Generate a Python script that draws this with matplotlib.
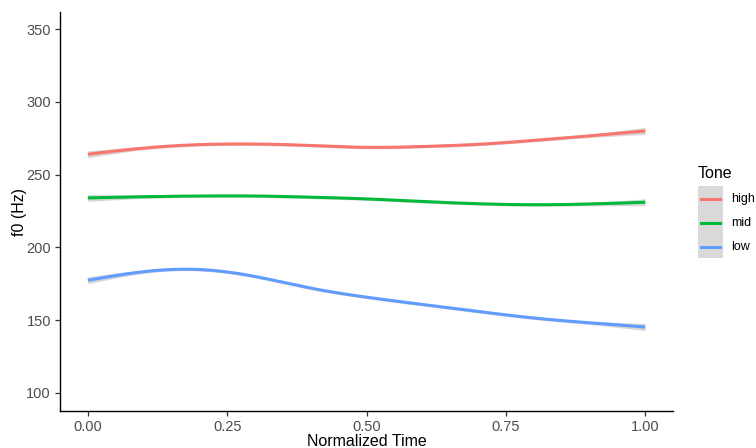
import numpy as np
import matplotlib
matplotlib.use("Agg")
import matplotlib.pyplot as plt
from matplotlib.patches import Rectangle
from matplotlib.lines import Line2D

plt.rcParams['font.family'] = ['Liberation Sans', 'DejaVu Sans']

time = [0.0, 0.1, 0.2, 0.3, 0.4, 0.5, 0.6, 0.7, 0.8, 0.9, 1.0]
high = [264.0, 268.2, 270.6, 271.0, 270.0, 268.7, 269.3, 270.8, 273.5, 276.6, 280.0]
mid = [234.0, 234.8, 235.3, 235.3, 234.5, 233.3, 231.5, 230.0, 229.3, 229.8, 231.0]
low = [177.4, 183.3, 184.8, 180.0, 172.0, 165.8, 160.8, 156.0, 151.5, 148.2, 145.3]
se = [1.2, 0.6, 0.5, 0.5, 0.5, 0.5, 0.5, 0.5, 0.5, 0.6, 1.2]
tones = ["high", "mid", "low"]
colors = ["#F8766D", "#00BA38", "#619CFF"]
xticks = [0.0, 0.25, 0.5, 0.75, 1.0]
xticklabels = ["0.00", "0.25", "0.50", "0.75", "1.00"]
yticks = [100, 150, 200, 250, 300, 350]


def spline(x, y, xs):
    x = np.asarray(x, float); y = np.asarray(y, float)
    n = len(x); h = np.diff(x)
    A = np.zeros((n, n)); b = np.zeros(n)
    A[0, 0] = A[-1, -1] = 1
    for i in range(1, n - 1):
        A[i, i - 1] = h[i - 1]; A[i, i] = 2 * (h[i - 1] + h[i]); A[i, i + 1] = h[i]
        b[i] = 3 * ((y[i + 1] - y[i]) / h[i] - (y[i] - y[i - 1]) / h[i - 1])
    c = np.linalg.solve(A, b)
    bb = (y[1:] - y[:-1]) / h - h * (2 * c[:-1] + c[1:]) / 3
    d = (c[1:] - c[:-1]) / (3 * h)
    idx = np.clip(np.searchsorted(x, xs) - 1, 0, n - 2)
    t = xs - x[idx]
    return y[idx] + bb[idx] * t + c[idx] * t ** 2 + d[idx] * t ** 3


fig = plt.figure(figsize=(7.56, 4.48), dpi=100)
W, H = 756, 448
ax = fig.add_axes([60 / W, 1 - 411 / H, (673 - 60) / W, (411 - 12) / H])

xs = np.linspace(0, 1, 300)
for vals, col in zip([high, mid, low], colors):
    ys = spline(time, vals, xs)
    ss = spline(time, se, xs)
    ax.fill_between(xs, ys - 2 * ss, ys + 2 * ss, color="#999999", alpha=0.4, lw=0)
    ax.plot(xs, ys, color=col, lw=2.2, solid_capstyle="butt")

ax.set_xlim(-0.05, 1.05)
ax.set_ylim(87.6, 361.7)
ax.set_xticks(xticks)
ax.set_xticklabels(xticklabels)
ax.set_yticks(yticks)
for s in ["top", "right"]:
    ax.spines[s].set_visible(False)
for s in ["left", "bottom"]:
    ax.spines[s].set_linewidth(1.0)
    ax.spines[s].set_color("black")
ax.tick_params(axis="both", colors="#333333", labelcolor="#4d4d4d", labelsize=10.5,
               length=3.5, width=0.9, pad=3)
ax.set_xlabel("Normalized Time", fontsize=11.5, labelpad=0)
ax.set_ylabel("f0 (Hz)", fontsize=11.5)
ax.yaxis.set_label_coords(-0.054, 0.5)

# legend
fig.text(698 / W, 1 - 173 / H, "Tone", fontsize=11.5, va="center", ha="left")
fig.add_artist(Rectangle((698 / W, 1 - 258 / H), 25 / W, 72 / H, transform=fig.transFigure,
                         facecolor="#d9d9d9", edgecolor="none"))
for i, (t, col) in enumerate(zip(tones, colors)):
    yc = 1 - (199 + i * 24) / H
    fig.add_artist(Line2D([701 / W, 720 / W], [yc, yc], transform=fig.transFigure,
                          color=col, lw=2.2))
    fig.text(731 / W, yc, t, fontsize=9, va="center", ha="left", color="black")

fig.savefig("out.png", dpi=100)
